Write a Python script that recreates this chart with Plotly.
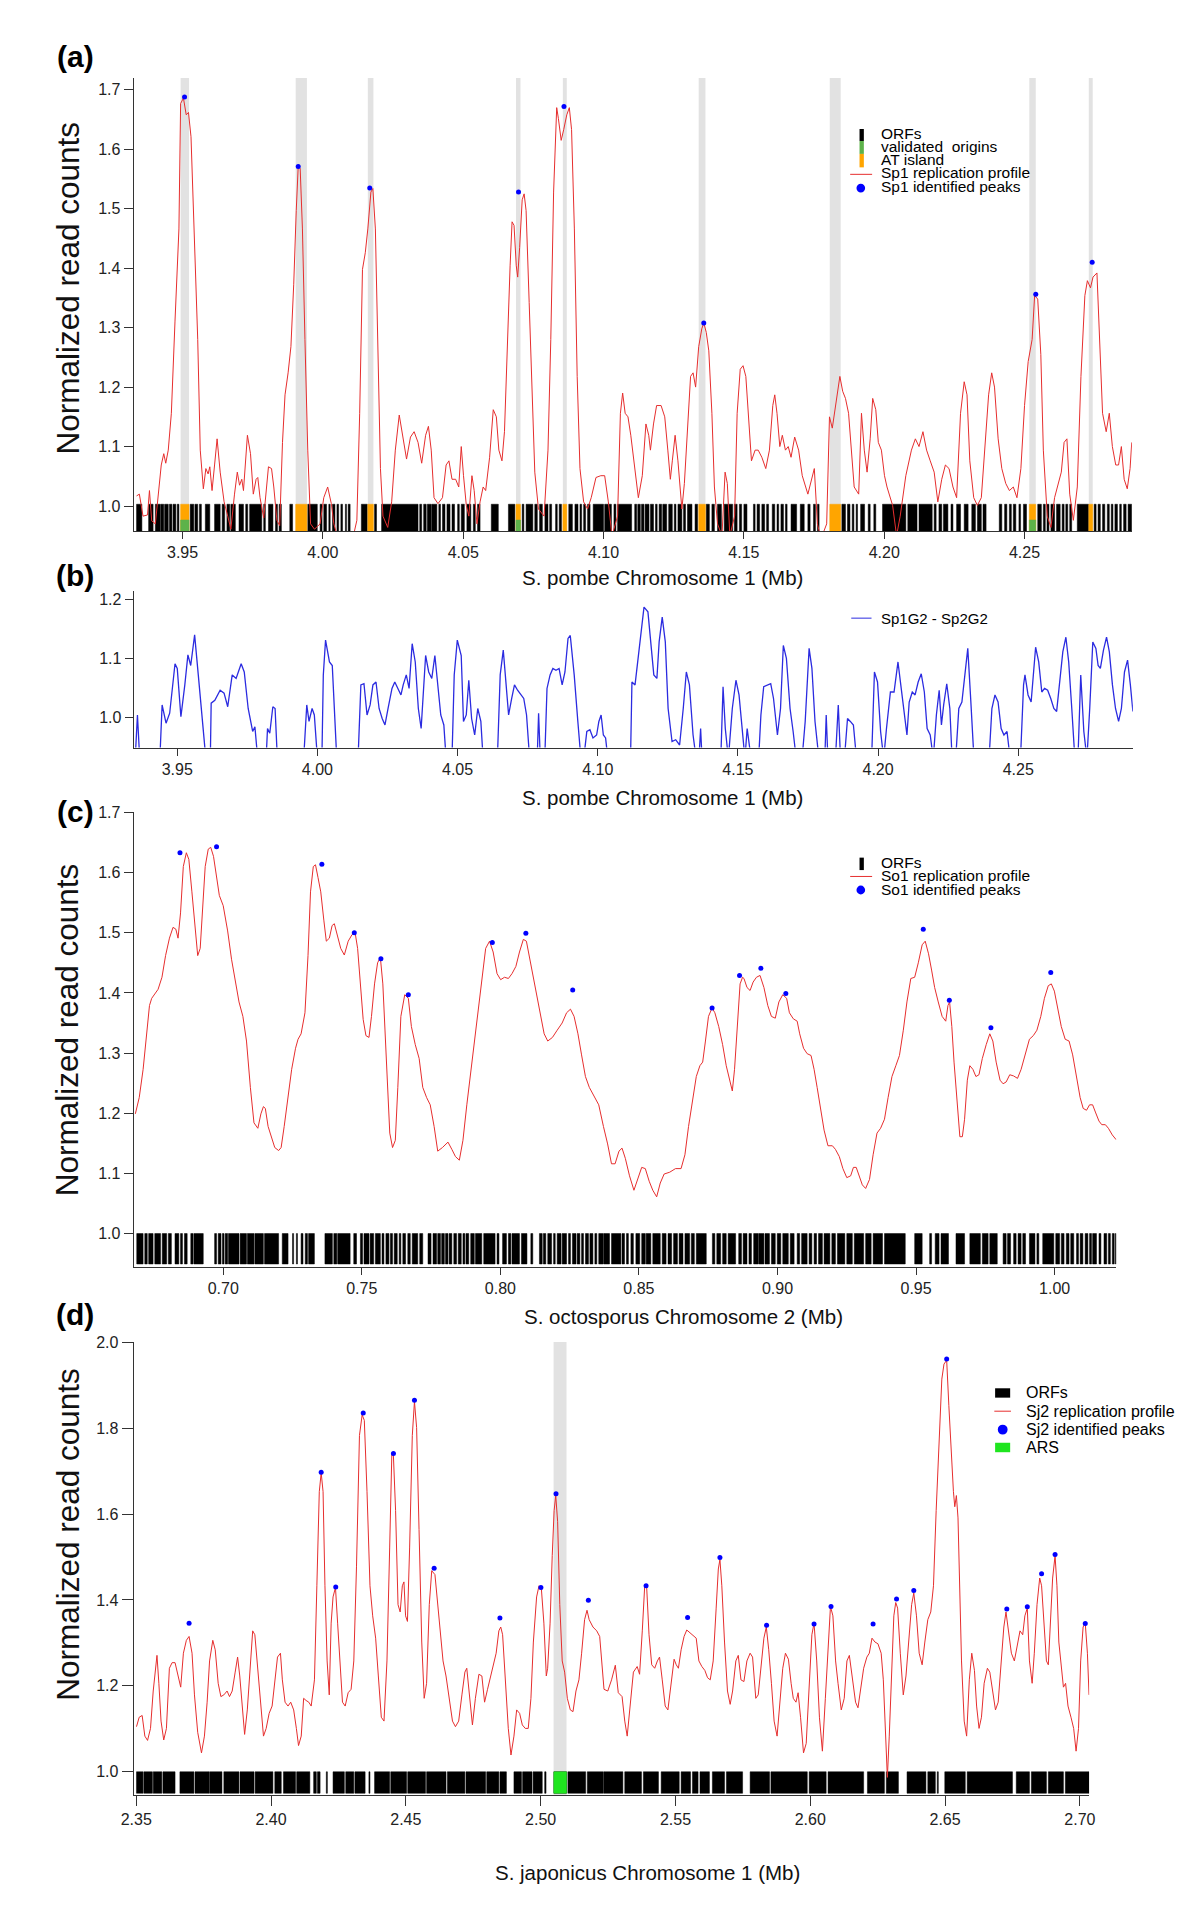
import plotly.graph_objects as go

# page is 1200x1912; the browser body keeps an 8px margin, so the figure is 1184x1896
OFF = 8
FW, FH = 1184, 1896
FONT = "Liberation Sans, Arial, Helvetica, sans-serif"
RED = "#e62e2e"
BLUE = "#0000ff"
GRAY = "#e2e2e2"
ORANGE = "#ffa500"
GREEN_ORI = "#5db24a"
GREEN_ARS = "#1fe51f"
BLUE_LINE = "#2b2be0"

# ---------------- Panel (a): S. pombe chr 1, Sp1 profile ----------------
a_x = [3.9336, 3.9346, 3.9359, 3.9375, 3.9382, 3.9390, 3.9403, 3.9424, 3.9433, 3.9440, 3.9449, 3.9460,
       3.9473, 3.9487, 3.9493, 3.9503, 3.9513, 3.9521, 3.9530, 3.9540, 3.9554, 3.9563, 3.9574, 3.9583,
       3.9591, 3.9597, 3.9605, 3.9614, 3.9623, 3.9634, 3.9648, 3.9661, 3.9672, 3.9685, 3.9695, 3.9703,
       3.9711, 3.9717, 3.9731, 3.9742, 3.9752, 3.9762, 3.9768, 3.9776, 3.9789, 3.9806, 3.9817, 3.9825,
       3.9836, 3.9846, 3.9856, 3.9865, 3.9876, 3.9886, 3.9896, 3.9905, 3.9912, 3.9919, 3.9927, 3.9936,
       3.9946, 3.9956, 3.9970, 3.9990, 4.0003, 4.0017, 4.0030, 4.0039, 4.0057, 4.0104, 4.0121, 4.0131,
       4.0141, 4.0151, 4.0160, 4.0171, 4.0178, 4.0187, 4.0195, 4.0205, 4.0214, 4.0231, 4.0245, 4.0258,
       4.0272, 4.0285, 4.0298, 4.0312, 4.0325, 4.0339, 4.0352, 4.0366, 4.0376, 4.0386, 4.0396, 4.0410,
       4.0426, 4.0439, 4.0449, 4.0460, 4.0473, 4.0484, 4.0493, 4.0501, 4.0511, 4.0520, 4.0531, 4.0539,
       4.0549, 4.0560, 4.0571, 4.0580, 4.0594, 4.0607, 4.0618, 4.0627, 4.0638, 4.0647, 4.0657, 4.0667,
       4.0674, 4.0681, 4.0689, 4.0694, 4.0701, 4.0710, 4.0717, 4.0724, 4.0735, 4.0745, 4.0755, 4.0768,
       4.0788, 4.0802, 4.0812, 4.0822, 4.0833, 4.0839, 4.0849, 4.0858, 4.0869, 4.0878, 4.0886, 4.0896,
       4.0906, 4.0916, 4.0929, 4.0943, 4.0956, 4.0973, 4.0990, 4.1004, 4.1017, 4.1030, 4.1050, 4.1060,
       4.1068, 4.1077, 4.1087, 4.1097, 4.1111, 4.1124, 4.1138, 4.1151, 4.1161, 4.1167, 4.1178, 4.1189,
       4.1205, 4.1218, 4.1229, 4.1238, 4.1245, 4.1255, 4.1265, 4.1279, 4.1288, 4.1299, 4.1310, 4.1319,
       4.1328, 4.1339, 4.1350, 4.1357, 4.1366, 4.1375, 4.1386, 4.1395, 4.1406, 4.1422, 4.1433, 4.1441,
       4.1450, 4.1467, 4.1476, 4.1487, 4.1497, 4.1507, 4.1516, 4.1527, 4.1540, 4.1551, 4.1564, 4.1578,
       4.1591, 4.1603, 4.1610, 4.1618, 4.1628, 4.1637, 4.1648, 4.1658, 4.1668, 4.1681, 4.1695, 4.1708,
       4.1728, 4.1742, 4.1751, 4.1762, 4.1775, 4.1795, 4.1805, 4.1815, 4.1829, 4.1842, 4.1852, 4.1862,
       4.1873, 4.1883, 4.1893, 4.1909, 4.1919, 4.1929, 4.1939, 4.1950, 4.1959, 4.1970, 4.1979, 4.1990,
       4.2001, 4.2010, 4.2021, 4.2030, 4.2044, 4.2057, 4.2077, 4.2097, 4.2111, 4.2124, 4.2138, 4.2151,
       4.2164, 4.2178, 4.2191, 4.2205, 4.2218, 4.2231, 4.2245, 4.2258, 4.2272, 4.2285, 4.2295, 4.2305,
       4.2319, 4.2332, 4.2346, 4.2359, 4.2372, 4.2383, 4.2393, 4.2406, 4.2419, 4.2433, 4.2446, 4.2460,
       4.2473, 4.2487, 4.2500, 4.2513, 4.2527, 4.2536, 4.2547, 4.2558, 4.2567, 4.2581, 4.2594, 4.2607,
       4.2618, 4.2631, 4.2641, 4.2651, 4.2661, 4.2674, 4.2688, 4.2701, 4.2715, 4.2724, 4.2735, 4.2744,
       4.2758, 4.2768, 4.2778, 4.2791, 4.2802, 4.2813, 4.2825, 4.2835, 4.2845, 4.2855, 4.2866, 4.2876,
       4.2882]
a_y = [1.017, 1.020, 0.983, 0.985, 1.026, 0.975, 0.970, 1.069, 1.088, 1.072, 1.094, 1.156,
       1.311, 1.466, 1.677, 1.686, 1.658, 1.662, 1.621, 1.466, 1.280, 1.094, 1.029, 1.063,
       1.054, 1.066, 1.026, 1.069, 1.113, 1.057, 1.007, 0.983, 0.961, 1.020, 1.057, 1.035,
       1.045, 1.026, 1.119, 1.088, 1.020, 1.045, 1.048, 1.014, 0.980, 1.066, 1.063, 1.032,
       0.976, 0.967, 1.107, 1.187, 1.224, 1.268, 1.373, 1.497, 1.571, 1.568, 1.466, 1.280,
       1.094, 0.970, 0.961, 0.970, 1.014, 1.032, 1.004, 0.970, 0.940, 0.940, 0.976, 1.156,
       1.398, 1.426, 1.466, 1.528, 1.534, 1.466, 1.280, 1.063, 0.983, 0.964, 1.007, 1.094,
       1.153, 1.119, 1.079, 1.116, 1.125, 1.107, 1.072, 1.119, 1.134, 1.094, 1.014, 1.004,
       1.014, 1.069, 1.076, 1.045, 1.045, 1.032, 1.100, 1.051, 1.001, 0.983, 1.051, 1.026,
       0.970, 1.007, 1.032, 1.026, 1.082, 1.162, 1.150, 1.094, 1.076, 1.125, 1.280, 1.404,
       1.478, 1.472, 1.404, 1.385, 1.435, 1.515, 1.525, 1.497, 1.342, 1.187, 1.057, 0.995,
       0.983, 1.094, 1.280, 1.528, 1.670, 1.652, 1.615, 1.633, 1.658, 1.670, 1.633, 1.466,
       1.218, 1.063, 1.007, 0.995, 1.014, 1.048, 1.051, 1.051, 1.007, 0.950, 0.983, 1.156,
       1.190, 1.156, 1.150, 1.119, 1.063, 1.014, 1.051, 1.138, 1.119, 1.094, 1.138, 1.169,
       1.169, 1.150, 1.094, 1.045, 1.076, 1.119, 1.076, 0.995, 1.038, 1.125, 1.218, 1.224,
       1.200, 1.268, 1.298, 1.308, 1.292, 1.261, 1.156, 1.032, 0.970, 0.950, 1.057, 1.038,
       0.950, 0.983, 1.156, 1.230, 1.236, 1.218, 1.156, 1.076, 1.094, 1.094, 1.082, 1.063,
       1.094, 1.169, 1.187, 1.156, 1.100, 1.119, 1.094, 1.100, 1.082, 1.116, 1.094, 1.051,
       1.020, 1.045, 1.063, 0.970, 0.945, 0.970, 1.150, 1.131, 1.181, 1.218, 1.193, 1.181,
       1.156, 1.094, 1.032, 1.020, 1.156, 1.094, 1.057, 1.113, 1.181, 1.162, 1.107, 1.094,
       1.051, 1.032, 1.014, 1.001, 0.950, 0.983, 1.051, 1.094, 1.113, 1.100, 1.125, 1.094,
       1.076, 1.057, 1.007, 1.045, 1.069, 1.063, 1.032, 1.014, 1.156, 1.209, 1.187, 1.076,
       1.014, 1.001, 1.014, 1.107, 1.187, 1.224, 1.200, 1.113, 1.063, 1.038, 1.026, 1.032,
       1.014, 1.063, 1.169, 1.243, 1.280, 1.354, 1.348, 1.255, 1.094, 0.983, 0.964, 1.014,
       1.032, 1.057, 1.107, 1.113, 1.020, 0.976, 1.032, 1.218, 1.354, 1.379, 1.367, 1.385,
       1.392, 1.280, 1.156, 1.125, 1.156, 1.100, 1.069, 1.069, 1.100, 1.045, 1.029, 1.063,
       1.107]
a_peak_x = [3.9507, 3.9912, 4.0167, 4.0697, 4.0859, 4.1357, 4.2540, 4.2741]
a_peak_y = [1.688, 1.571, 1.535, 1.528, 1.672, 1.308, 1.356, 1.410]
a_orf_start = [3.9336, 3.9379, 3.9403, 3.9422, 3.9436, 3.9453, 3.9466, 3.9481, 3.9527, 3.9544, 3.9560,
               3.9581, 3.9614, 3.9641, 3.9658, 3.9672, 3.9701, 3.9725, 3.9739, 3.9789, 3.9806, 3.9831,
               3.9844, 3.9882, 3.9946, 3.9990, 4.0003, 4.0021, 4.0034, 4.0050, 4.0064, 4.0080, 4.0090,
               4.0137, 4.0184, 4.0209, 4.0345, 4.0359, 4.0372, 4.0388, 4.0413, 4.0426, 4.0442, 4.0460,
               4.0480, 4.0493, 4.0513, 4.0536, 4.0551, 4.0600, 4.0661, 4.0710, 4.0724, 4.0755, 4.0772,
               4.0791, 4.0808, 4.0829, 4.0842, 4.0876, 4.0898, 4.0916, 4.0929, 4.0943, 4.0963,
               4.1004, 4.1037, 4.1050, 4.1111, 4.1122, 4.1135, 4.1148, 4.1167, 4.1185, 4.1198, 4.1211,
               4.1232, 4.1252, 4.1265, 4.1285, 4.1299, 4.1326, 4.1366, 4.1386, 4.1406, 4.1430, 4.1466,
               4.1484, 4.1500, 4.1534, 4.1547, 4.1564, 4.1581, 4.1601, 4.1618, 4.1632, 4.1648, 4.1668,
               4.1701, 4.1728, 4.1748, 4.1762, 4.1862, 4.1869, 4.1886, 4.1900, 4.1916, 4.1943, 4.1963,
               4.1994, 4.2084, 4.2124, 4.2178, 4.2195, 4.2211, 4.2238, 4.2258, 4.2285, 4.2312, 4.2332,
               4.2352, 4.2410, 4.2429, 4.2446, 4.2460, 4.2480, 4.2496, 4.2547, 4.2567, 4.2580, 4.2594,
               4.2614, 4.2634, 4.2647, 4.2661, 4.2688, 4.2748, 4.2762, 4.2778, 4.2795, 4.2809, 4.2822,
               4.2839, 4.2853, 4.2869]
a_orf_end = [3.9355, 3.9395, 3.9420, 3.9433, 3.9449, 3.9462, 3.9476, 3.9487, 3.9540, 3.9554, 3.9567,
             3.9597, 3.9634, 3.9650, 3.9668, 3.9688, 3.9717, 3.9732, 3.9782, 3.9795, 3.9822, 3.9838,
             3.9852, 3.9892, 3.9980, 3.9997, 4.0013, 4.0026, 4.0043, 4.0056, 4.0070, 4.0084, 4.0097,
             4.0158, 4.0191, 4.0339, 4.0352, 4.0368, 4.0386, 4.0406, 4.0419, 4.0435, 4.0453, 4.0469,
             4.0486, 4.0504, 4.0527, 4.0543, 4.0560, 4.0625, 4.0684, 4.0716, 4.0748, 4.0764, 4.0782,
             4.0802, 4.0815, 4.0835, 4.0850, 4.0889, 4.0909, 4.0922, 4.0936, 4.0952, 4.1000,
             4.1028, 4.1044, 4.1100, 4.1118, 4.1131, 4.1144, 4.1162, 4.1178, 4.1191, 4.1207, 4.1225,
             4.1245, 4.1258, 4.1279, 4.1292, 4.1315, 4.1335, 4.1377, 4.1395, 4.1420, 4.1460, 4.1476,
             4.1492, 4.1511, 4.1540, 4.1556, 4.1574, 4.1588, 4.1610, 4.1624, 4.1641, 4.1654, 4.1688,
             4.1715, 4.1736, 4.1755, 4.1768, 4.1849, 4.1878, 4.1892, 4.1905, 4.1930, 4.1950, 4.1970,
             4.2077, 4.2117, 4.2171, 4.2185, 4.2205, 4.2227, 4.2245, 4.2272, 4.2299, 4.2325, 4.2346,
             4.2363, 4.2419, 4.2437, 4.2453, 4.2469, 4.2486, 4.2507, 4.2560, 4.2574, 4.2587, 4.2607,
             4.2627, 4.2641, 4.2654, 4.2668, 4.2728, 4.2755, 4.2770, 4.2786, 4.2802, 4.2815, 4.2831,
             4.2845, 4.2862, 4.2882]
a_at_start = [3.9493, 3.9903, 4.0160, 4.0688, 4.0855, 4.1339, 4.1806, 4.2517, 4.2729]
a_at_end = [3.9523, 3.9943, 4.0180, 4.0704, 4.0869, 4.1363, 4.1845, 4.2540, 4.2743]
a_ori_start = [3.9493, 4.0688, 4.2517]
a_ori_end = [3.9523, 4.0704, 4.2540]
a_xticks = [3.95, 4.00, 4.05, 4.10, 4.15, 4.20, 4.25]
a_xlabels = ["3.95", "4.00", "4.05", "4.10", "4.15", "4.20", "4.25"]
a_yticks = [1.0, 1.1, 1.2, 1.3, 1.4, 1.5, 1.6, 1.7]
a_ylabels = ["1.0", "1.1", "1.2", "1.3", "1.4", "1.5", "1.6", "1.7"]

# ---------------- Panel (b): Sp1G2 - Sp2G2 ----------------
b_x = [3.9350, 3.9358, 3.9366, 3.9438, 3.9446, 3.9460, 3.9473, 3.9492, 3.9500, 3.9513, 3.9527, 3.9538,
       3.9548, 3.9562, 3.9575, 3.9591, 3.9602, 3.9618, 3.9621, 3.9634, 3.9653, 3.9667, 3.9680, 3.9696,
       3.9710, 3.9728, 3.9739, 3.9753, 3.9769, 3.9777, 3.9787, 3.9817, 3.9822, 3.9830, 3.9841, 3.9849,
       3.9857, 3.9951, 3.9962, 3.9970, 3.9981, 3.9989, 4.0000, 4.0016, 4.0021, 4.0029, 4.0043, 4.0053,
       4.0064, 4.0069, 4.0145, 4.0155, 4.0166, 4.0177, 4.0188, 4.0198, 4.0209, 4.0220, 4.0231, 4.0241,
       4.0252, 4.0266, 4.0276, 4.0287, 4.0298, 4.0306, 4.0317, 4.0327, 4.0338, 4.0349, 4.0360, 4.0370,
       4.0378, 4.0386, 4.0397, 4.0408, 4.0419, 4.0429, 4.0440, 4.0451, 4.0459, 4.0480, 4.0488, 4.0499,
       4.0513, 4.0521, 4.0531, 4.0540, 4.0550, 4.0561, 4.0572, 4.0583, 4.0591, 4.0642, 4.0652, 4.0663,
       4.0674, 4.0682, 4.0693, 4.0703, 4.0714, 4.0725, 4.0736, 4.0746, 4.0757, 4.0784, 4.0789, 4.0795,
       4.0811, 4.0819, 4.0830, 4.0840, 4.0851, 4.0862, 4.0873, 4.0883, 4.0894, 4.0902, 4.0916, 4.0929,
       4.0940, 4.0950, 4.0961, 4.0972, 4.0983, 4.0996, 4.1004, 4.1012, 4.1020, 4.1028, 4.1036, 4.1117,
       4.1122, 4.1133, 4.1144, 4.1155, 4.1165, 4.1179, 4.1190, 4.1200, 4.1211, 4.1219, 4.1230, 4.1241,
       4.1251, 4.1265, 4.1278, 4.1292, 4.1305, 4.1316, 4.1327, 4.1340, 4.1351, 4.1361, 4.1367, 4.1372,
       4.1439, 4.1447, 4.1455, 4.1466, 4.1480, 4.1493, 4.1504, 4.1515, 4.1525, 4.1533, 4.1547, 4.1574,
       4.1582, 4.1592, 4.1606, 4.1617, 4.1627, 4.1641, 4.1652, 4.1662, 4.1673, 4.1686, 4.1697, 4.1708,
       4.1729, 4.1740, 4.1754, 4.1764, 4.1775, 4.1789, 4.1810, 4.1815, 4.1821, 4.1848, 4.1858, 4.1866,
       4.1880, 4.1891, 4.1901, 4.1912, 4.1923, 4.1977, 4.1987, 4.1998, 4.2009, 4.2020, 4.2030, 4.2044,
       4.2057, 4.2071, 4.2081, 4.2092, 4.2103, 4.2111, 4.2122, 4.2132, 4.2143, 4.2154, 4.2165, 4.2175,
       4.2186, 4.2197, 4.2208, 4.2218, 4.2226, 4.2234, 4.2245, 4.2256, 4.2264, 4.2277, 4.2288, 4.2299,
       4.2310, 4.2320, 4.2331, 4.2342, 4.2396, 4.2406, 4.2417, 4.2428, 4.2439, 4.2449, 4.2460, 4.2471,
       4.2508, 4.2519, 4.2524, 4.2535, 4.2546, 4.2557, 4.2562, 4.2573, 4.2584, 4.2594, 4.2605, 4.2616,
       4.2627, 4.2637, 4.2648, 4.2659, 4.2670, 4.2680, 4.2691, 4.2702, 4.2713, 4.2723, 4.2734, 4.2745,
       4.2755, 4.2766, 4.2777, 4.2785, 4.2793, 4.2804, 4.2815, 4.2825, 4.2836, 4.2847, 4.2858, 4.2868,
       4.2879, 4.2890, 4.2900, 4.2909]
b_y = [0.93, 1.004, 0.93, 0.93, 1.021, 0.990, 1.007, 1.091, 1.083, 1.001, 1.055, 1.106,
       1.088, 1.140, 1.072, 0.987, 0.93, 0.93, 1.024, 1.029, 1.046, 1.041, 1.018, 1.072,
       1.066, 1.091, 1.077, 1.015, 0.976, 0.984, 0.93, 0.93, 0.981, 0.973, 1.018, 1.015,
       0.93, 0.93, 1.021, 0.993, 1.015, 1.004, 0.93, 0.93, 1.072, 1.131, 1.094, 1.088,
       0.981, 0.93, 0.93, 1.055, 1.057, 1.004, 1.021, 1.055, 1.060, 1.015, 0.998, 0.987,
       1.015, 1.049, 1.060, 1.049, 1.038, 1.055, 1.072, 1.049, 1.125, 1.094, 1.015, 0.981,
       1.049, 1.105, 1.077, 1.066, 1.105, 1.055, 1.004, 0.987, 0.93, 0.93, 1.072, 1.131,
       1.105, 0.993, 1.004, 1.063, 0.998, 0.970, 1.015, 0.993, 0.93, 0.93, 1.072, 1.114,
       1.055, 1.004, 1.032, 1.055, 1.046, 1.038, 1.032, 1.004, 0.93, 0.93, 1.007, 0.93,
       0.93, 1.049, 1.072, 1.083, 1.080, 1.083, 1.055, 1.077, 1.134, 1.139, 1.072, 0.993,
       0.93, 0.93, 0.976, 0.979, 0.965, 0.970, 0.993, 1.004, 0.970, 0.965, 0.93, 0.93,
       1.060, 1.055, 1.100, 1.150, 1.187, 1.179, 1.122, 1.072, 1.066, 1.128, 1.170, 1.128,
       1.015, 0.959, 0.962, 0.953, 1.015, 1.077, 1.055, 0.970, 0.93, 0.93, 0.981, 0.93,
       0.93, 1.052, 0.981, 0.93, 1.015, 1.063, 1.038, 0.981, 0.93, 0.981, 0.93, 0.93,
       1.004, 1.052, 1.055, 1.057, 1.032, 0.970, 1.015, 1.122, 1.100, 1.015, 0.976, 0.93,
       0.93, 0.993, 1.117, 1.083, 0.993, 0.93, 0.93, 1.004, 0.93, 0.93, 1.021, 0.93,
       0.93, 0.998, 0.993, 0.987, 0.93, 0.93, 1.077, 1.060, 0.976, 0.93, 0.981, 1.043,
       1.043, 1.094, 1.055, 1.015, 0.970, 1.026, 1.043, 1.038, 1.060, 1.074, 1.043, 0.981,
       0.970, 0.93, 1.004, 1.046, 0.987, 1.021, 1.057, 1.015, 0.93, 0.93, 1.015, 1.026,
       1.072, 1.117, 1.026, 0.93, 0.93, 1.015, 1.038, 1.026, 0.981, 0.970, 0.976, 0.93,
       0.93, 1.055, 1.072, 1.038, 1.026, 1.094, 1.119, 1.094, 1.043, 1.049, 1.046, 1.032,
       1.015, 1.010, 1.066, 1.111, 1.136, 1.094, 1.015, 0.93, 0.93, 1.072, 0.976, 0.93,
       1.015, 1.128, 1.117, 1.088, 1.083, 1.114, 1.136, 1.111, 1.055, 1.015, 0.993, 1.015,
       1.077, 1.097, 1.055, 1.010]
b_yticks = [1.0, 1.1, 1.2]
b_ylabels = ["1.0", "1.1", "1.2"]

# ---------------- Panel (c): S. octosporus chr 2, So1 profile ----------------
c_x = [0.6683, 0.6697, 0.6711, 0.6724, 0.6734, 0.6742, 0.6751, 0.6765, 0.6779, 0.6792, 0.6806, 0.6819,
       0.6829, 0.6837, 0.6846, 0.6856, 0.6867, 0.6876, 0.6887, 0.6897, 0.6908, 0.6917, 0.6925, 0.6935,
       0.6946, 0.6955, 0.6965, 0.6976, 0.6986, 0.7000, 0.7016, 0.7030, 0.7043, 0.7057, 0.7071, 0.7084,
       0.7098, 0.7111, 0.7125, 0.7136, 0.7145, 0.7152, 0.7162, 0.7173, 0.7186, 0.7200, 0.7209, 0.7220,
       0.7234, 0.7247, 0.7261, 0.7270, 0.7281, 0.7295, 0.7306, 0.7315, 0.7325, 0.7333, 0.7342, 0.7352,
       0.7363, 0.7372, 0.7383, 0.7393, 0.7401, 0.7410, 0.7424, 0.7437, 0.7451, 0.7465, 0.7476, 0.7485,
       0.7495, 0.7505, 0.7515, 0.7526, 0.7535, 0.7546, 0.7557, 0.7567, 0.7576, 0.7587, 0.7601, 0.7611,
       0.7621, 0.7630, 0.7641, 0.7655, 0.7668, 0.7679, 0.7693, 0.7707, 0.7720, 0.7734, 0.7747, 0.7761,
       0.7774, 0.7791, 0.7811, 0.7825, 0.7838, 0.7852, 0.7865, 0.7879, 0.7893, 0.7906, 0.7920, 0.7933,
       0.7947, 0.7961, 0.7974, 0.7988, 0.8001, 0.8015, 0.8029, 0.8042, 0.8056, 0.8069, 0.8083, 0.8094,
       0.8106, 0.8124, 0.8141, 0.8158, 0.8171, 0.8188, 0.8205, 0.8223, 0.8239, 0.8253, 0.8266, 0.8280,
       0.8293, 0.8307, 0.8321, 0.8341, 0.8355, 0.8372, 0.8387, 0.8401, 0.8414, 0.8428, 0.8439, 0.8451,
       0.8466, 0.8482, 0.8496, 0.8510, 0.8523, 0.8537, 0.8550, 0.8564, 0.8577, 0.8591, 0.8611, 0.8632,
       0.8652, 0.8666, 0.8679, 0.8693, 0.8707, 0.8720, 0.8730, 0.8740, 0.8751, 0.8764, 0.8774, 0.8788,
       0.8802, 0.8815, 0.8826, 0.8837, 0.8845, 0.8856, 0.8865, 0.8874, 0.8879, 0.8890, 0.8901, 0.8912,
       0.8924, 0.8937, 0.8951, 0.8965, 0.8978, 0.8992, 0.9005, 0.9019, 0.9033, 0.9043, 0.9057, 0.9071,
       0.9080, 0.9094, 0.9107, 0.9121, 0.9132, 0.9143, 0.9155, 0.9168, 0.9182, 0.9198, 0.9209, 0.9223,
       0.9236, 0.9250, 0.9264, 0.9274, 0.9284, 0.9295, 0.9306, 0.9318, 0.9332, 0.9345, 0.9359, 0.9372,
       0.9386, 0.9399, 0.9413, 0.9427, 0.9440, 0.9454, 0.9467, 0.9481, 0.9495, 0.9508, 0.9522, 0.9533,
       0.9545, 0.9556, 0.9567, 0.9580, 0.9594, 0.9607, 0.9615, 0.9621, 0.9629, 0.9637, 0.9647, 0.9658,
       0.9667, 0.9675, 0.9685, 0.9694, 0.9705, 0.9716, 0.9727, 0.9739, 0.9753, 0.9766, 0.9777, 0.9789,
       0.9803, 0.9814, 0.9825, 0.9838, 0.9852, 0.9866, 0.9879, 0.9895, 0.9909, 0.9923, 0.9936, 0.9950,
       0.9963, 0.9977, 0.9988, 0.9999, 1.0011, 1.0024, 1.0038, 1.0052, 1.0065, 1.0079, 1.0092, 1.0103,
       1.0115, 1.0126, 1.0137, 1.0147, 1.0160, 1.0170, 1.0183, 1.0194, 1.0208, 1.0222]
c_y = [1.199, 1.226, 1.273, 1.332, 1.379, 1.391, 1.397, 1.406, 1.426, 1.462, 1.491, 1.509,
       1.506, 1.491, 1.533, 1.610, 1.633, 1.622, 1.568, 1.521, 1.462, 1.474, 1.539, 1.610,
       1.639, 1.642, 1.627, 1.592, 1.562, 1.545, 1.503, 1.456, 1.421, 1.385, 1.361, 1.320,
       1.243, 1.184, 1.175, 1.199, 1.211, 1.208, 1.178, 1.161, 1.143, 1.138, 1.143, 1.178,
       1.232, 1.273, 1.308, 1.323, 1.332, 1.367, 1.462, 1.568, 1.610, 1.613, 1.592, 1.568,
       1.521, 1.486, 1.491, 1.512, 1.515, 1.497, 1.474, 1.463, 1.486, 1.497, 1.500, 1.474,
       1.415, 1.356, 1.329, 1.326, 1.361, 1.415, 1.450, 1.459, 1.415, 1.302, 1.167, 1.143,
       1.155, 1.243, 1.361, 1.397, 1.391, 1.344, 1.314, 1.291, 1.243, 1.226, 1.214, 1.178,
       1.137, 1.143, 1.152, 1.140, 1.128, 1.122, 1.155, 1.214, 1.267, 1.320, 1.379, 1.426,
       1.474, 1.486, 1.468, 1.432, 1.422, 1.426, 1.424, 1.432, 1.444, 1.468, 1.489, 1.486,
       1.456, 1.415, 1.373, 1.332, 1.320, 1.326, 1.338, 1.350, 1.367, 1.373, 1.361, 1.332,
       1.297, 1.261, 1.243, 1.226, 1.214, 1.178, 1.149, 1.116, 1.116, 1.137, 1.142, 1.125,
       1.096, 1.072, 1.090, 1.110, 1.108, 1.087, 1.072, 1.061, 1.084, 1.099, 1.102, 1.108,
       1.108, 1.131, 1.178, 1.220, 1.261, 1.279, 1.285, 1.320, 1.361, 1.375, 1.367, 1.344,
       1.314, 1.279, 1.255, 1.237, 1.273, 1.361, 1.415, 1.426, 1.424, 1.409, 1.404, 1.418,
       1.426, 1.429, 1.409, 1.379, 1.361, 1.358, 1.385, 1.397, 1.391, 1.367, 1.357, 1.353,
       1.332, 1.308, 1.299, 1.296, 1.273, 1.243, 1.208, 1.172, 1.146, 1.146, 1.140, 1.128,
       1.108, 1.093, 1.096, 1.110, 1.110, 1.096, 1.081, 1.075, 1.090, 1.131, 1.167, 1.175,
       1.190, 1.226, 1.261, 1.279, 1.296, 1.338, 1.385, 1.424, 1.426, 1.450, 1.480, 1.486,
       1.465, 1.438, 1.409, 1.385, 1.361, 1.353, 1.379, 1.385, 1.344, 1.285, 1.226, 1.161,
       1.161, 1.190, 1.255, 1.279, 1.273, 1.261, 1.264, 1.291, 1.314, 1.332, 1.320, 1.285,
       1.255, 1.249, 1.252, 1.264, 1.262, 1.258, 1.273, 1.302, 1.323, 1.329, 1.338, 1.361,
       1.391, 1.412, 1.415, 1.403, 1.373, 1.344, 1.323, 1.320, 1.297, 1.261, 1.226, 1.208,
       1.205, 1.214, 1.214, 1.202, 1.187, 1.181, 1.181, 1.175, 1.164, 1.156]
c_peak_x = [0.6844, 0.6976, 0.7356, 0.7473, 0.7569, 0.7668, 0.7971, 0.8092, 0.8261,
            0.8764, 0.8863, 0.8940, 0.9030, 0.9526, 0.9620, 0.9770, 0.9986]
c_peak_y = [1.633, 1.643, 1.614, 1.500, 1.457, 1.397, 1.484, 1.499, 1.405,
            1.375, 1.429, 1.441, 1.399, 1.506, 1.388, 1.342, 1.434]
c_orf_start = [0.6688, 0.6717, 0.6731, 0.6753, 0.6780, 0.6802, 0.6826, 0.6846, 0.6860, 0.6883, 0.6894,
               0.6969, 0.6982, 0.6997, 0.7007, 0.7019, 0.7061, 0.7087, 0.7114, 0.7149, 0.7213, 0.7250,
               0.7264, 0.7281, 0.7296, 0.7308, 0.7367, 0.7399, 0.7413, 0.7471, 0.7495, 0.7508, 0.7530,
               0.7549, 0.7573, 0.7587, 0.7603, 0.7617, 0.7635, 0.7648, 0.7666, 0.7682, 0.7709, 0.7739,
               0.7757, 0.7774, 0.7788, 0.7802, 0.7815, 0.7832, 0.7848, 0.7865, 0.7876, 0.7893, 0.7910,
               0.7940, 0.7988, 0.8008, 0.8029, 0.8042, 0.8076, 0.8110, 0.8141, 0.8155, 0.8171, 0.8192,
               0.8205, 0.8223, 0.8246, 0.8260, 0.8277, 0.8293, 0.8307, 0.8323, 0.8341, 0.8355,
               0.8374, 0.8401, 0.8439, 0.8455, 0.8471, 0.8489, 0.8510, 0.8526, 0.8550, 0.8584, 0.8605,
               0.8625, 0.8645, 0.8666, 0.8689, 0.8707, 0.8765, 0.8781, 0.8802, 0.8822, 0.8860, 0.8876,
               0.8897, 0.8914, 0.8933, 0.8955, 0.8978, 0.8999, 0.9019, 0.9046, 0.9071, 0.9087, 0.9114,
               0.9132, 0.9148, 0.9168, 0.9196, 0.9216, 0.9250, 0.9277, 0.9318, 0.9345, 0.9386, 0.9495,
               0.9549, 0.9569, 0.9590, 0.9644, 0.9694, 0.9739, 0.9766, 0.9814, 0.9830, 0.9852, 0.9868,
               0.9885, 0.9909, 0.9936, 0.9957, 1.0004, 1.0024, 1.0042, 1.0058, 1.0079, 1.0092, 1.0110,
               1.0126, 1.0137, 1.0160, 1.0178, 1.0194, 1.0208, 1.0219]
c_orf_end = [0.6711, 0.6726, 0.6747, 0.6774, 0.6796, 0.6813, 0.6840, 0.6853, 0.6870, 0.6891, 0.6928,
             0.6976, 0.6992, 0.7003, 0.7016, 0.7057, 0.7084, 0.7111, 0.7145, 0.7200, 0.7234, 0.7254,
             0.7268, 0.7288, 0.7304, 0.7329, 0.7394, 0.7410, 0.7458, 0.7481, 0.7503, 0.7526, 0.7543,
             0.7567, 0.7580, 0.7598, 0.7611, 0.7628, 0.7641, 0.7658, 0.7675, 0.7702, 0.7720, 0.7750,
             0.7770, 0.7784, 0.7798, 0.7811, 0.7825, 0.7842, 0.7859, 0.7872, 0.7886, 0.7906, 0.7933,
             0.7981, 0.7995, 0.8022, 0.8038, 0.8069, 0.8096, 0.8117, 0.8151, 0.8164, 0.8185, 0.8198,
             0.8219, 0.8239, 0.8253, 0.8273, 0.8287, 0.8300, 0.8318, 0.8334, 0.8348, 0.8372,
             0.8394, 0.8435, 0.8448, 0.8462, 0.8480, 0.8503, 0.8523, 0.8543, 0.8577, 0.8598, 0.8618,
             0.8639, 0.8659, 0.8683, 0.8700, 0.8743, 0.8774, 0.8795, 0.8815, 0.8849, 0.8870, 0.8890,
             0.8906, 0.8931, 0.8951, 0.8971, 0.8992, 0.9012, 0.9039, 0.9060, 0.9080, 0.9107, 0.9124,
             0.9141, 0.9162, 0.9189, 0.9209, 0.9243, 0.9270, 0.9311, 0.9338, 0.9379, 0.9461, 0.9522,
             0.9556, 0.9583, 0.9617, 0.9675, 0.9732, 0.9760, 0.9793, 0.9825, 0.9841, 0.9861, 0.9879,
             0.9895, 0.9929, 0.9943, 0.9997, 1.0018, 1.0034, 1.0052, 1.0069, 1.0086, 1.0102, 1.0120,
             1.0133, 1.0151, 1.0167, 1.0188, 1.0201, 1.0215, 1.0222]
c_xticks = [0.70, 0.75, 0.80, 0.85, 0.90, 0.95, 1.00]
c_xlabels = ["0.70", "0.75", "0.80", "0.85", "0.90", "0.95", "1.00"]
c_yticks = [1.0, 1.1, 1.2, 1.3, 1.4, 1.5, 1.6, 1.7]
c_ylabels = ["1.0", "1.1", "1.2", "1.3", "1.4", "1.5", "1.6", "1.7"]

# ---------------- Panel (d): S. japonicus chr 1, Sj2 profile ----------------
d_x = [2.3501, 2.3511, 2.3522, 2.3532, 2.3542, 2.3553, 2.3563, 2.3571, 2.3577, 2.3584, 2.3592, 2.3602,
       2.3612, 2.3623, 2.3633, 2.3644, 2.3654, 2.3665, 2.3675, 2.3686, 2.3696, 2.3707, 2.3716, 2.3728,
       2.3742, 2.3753, 2.3763, 2.3772, 2.3784, 2.3793, 2.3804, 2.3814, 2.3825, 2.3837, 2.3846, 2.3856,
       2.3867, 2.3876, 2.3884, 2.3892, 2.3902, 2.3912, 2.3923, 2.3932, 2.3940, 2.3951, 2.3962, 2.3972,
       2.3982, 2.3993, 2.4004, 2.4014, 2.4024, 2.4035, 2.4042, 2.4052, 2.4063, 2.4073, 2.4084, 2.4094,
       2.4102, 2.4112, 2.4121, 2.4130, 2.4140, 2.4149, 2.4161, 2.4170, 2.4179, 2.4186, 2.4193, 2.4200,
       2.4208, 2.4216, 2.4223, 2.4230, 2.4239, 2.4247, 2.4256, 2.4265, 2.4275, 2.4286, 2.4297, 2.4307,
       2.4317, 2.4328, 2.4338, 2.4346, 2.4356, 2.4367, 2.4377, 2.4388, 2.4398, 2.4409, 2.4419, 2.4430,
       2.4440, 2.4448, 2.4454, 2.4462, 2.4471, 2.4479, 2.4487, 2.4493, 2.4499, 2.4506, 2.4514, 2.4524,
       2.4532, 2.4540, 2.4549, 2.4559, 2.4568, 2.4577, 2.4587, 2.4596, 2.4608, 2.4619, 2.4628, 2.4638,
       2.4649, 2.4661, 2.4673, 2.4684, 2.4696, 2.4708, 2.4719, 2.4726, 2.4736, 2.4747, 2.4758, 2.4771,
       2.4782, 2.4792, 2.4803, 2.4814, 2.4824, 2.4835, 2.4845, 2.4852, 2.4859, 2.4869, 2.4880, 2.4890,
       2.4901, 2.4911, 2.4922, 2.4932, 2.4943, 2.4954, 2.4964, 2.4973, 2.4985, 2.4994, 2.5003, 2.5012,
       2.5021, 2.5026, 2.5035, 2.5043, 2.5050, 2.5056, 2.5063, 2.5071, 2.5080, 2.5089, 2.5099, 2.5110,
       2.5120, 2.5131, 2.5142, 2.5152, 2.5163, 2.5172, 2.5180, 2.5194, 2.5208, 2.5219, 2.5235, 2.5249,
       2.5263, 2.5277, 2.5288, 2.5302, 2.5312, 2.5321, 2.5333, 2.5344, 2.5358, 2.5367, 2.5377, 2.5386,
       2.5393, 2.5402, 2.5412, 2.5423, 2.5433, 2.5441, 2.5451, 2.5462, 2.5472, 2.5483, 2.5495, 2.5503,
       2.5511, 2.5521, 2.5532, 2.5542, 2.5553, 2.5566, 2.5577, 2.5587, 2.5598, 2.5609, 2.5619, 2.5629,
       2.5640, 2.5651, 2.5659, 2.5665, 2.5672, 2.5682, 2.5693, 2.5703, 2.5712, 2.5724, 2.5733, 2.5743,
       2.5754, 2.5765, 2.5777, 2.5786, 2.5798, 2.5807, 2.5818, 2.5828, 2.5837, 2.5846, 2.5856, 2.5866,
       2.5877, 2.5887, 2.5898, 2.5908, 2.5919, 2.5929, 2.5937, 2.5947, 2.5955, 2.5964, 2.5975, 2.5985,
       2.5996, 2.6006, 2.6014, 2.6024, 2.6034, 2.6045, 2.6056, 2.6067, 2.6075, 2.6084, 2.6094, 2.6103,
       2.6115, 2.6126, 2.6136, 2.6145, 2.6157, 2.6168, 2.6177, 2.6187, 2.6198, 2.6210, 2.6219, 2.6229,
       2.6240, 2.6251, 2.6263, 2.6271, 2.6279, 2.6286, 2.6293, 2.6302, 2.6310, 2.6317, 2.6324, 2.6334,
       2.6345, 2.6355, 2.6366, 2.6376, 2.6384, 2.6394, 2.6404, 2.6415, 2.6425, 2.6436, 2.6447, 2.6457,
       2.6467, 2.6478, 2.6488, 2.6496, 2.6506, 2.6514, 2.6523, 2.6531, 2.6536, 2.6542, 2.6548, 2.6555,
       2.6561, 2.6571, 2.6580, 2.6590, 2.6599, 2.6609, 2.6617, 2.6626, 2.6635, 2.6645, 2.6657, 2.6666,
       2.6676, 2.6687, 2.6697, 2.6708, 2.6718, 2.6726, 2.6736, 2.6746, 2.6757, 2.6768, 2.6778, 2.6788,
       2.6796, 2.6805, 2.6813, 2.6823, 2.6831, 2.6841, 2.6851, 2.6858, 2.6866, 2.6876, 2.6883, 2.6891,
       2.6899, 2.6908, 2.6915, 2.6922, 2.6930, 2.6939, 2.6947, 2.6956, 2.6967, 2.6977, 2.6986, 2.6995,
       2.7003, 2.7012, 2.7020, 2.7028, 2.7034]
d_y = [1.105, 1.127, 1.131, 1.083, 1.073, 1.101, 1.188, 1.241, 1.271, 1.206, 1.118, 1.074,
       1.101, 1.241, 1.254, 1.254, 1.227, 1.197, 1.276, 1.306, 1.315, 1.276, 1.179, 1.092,
       1.044, 1.083, 1.162, 1.258, 1.306, 1.284, 1.206, 1.175, 1.179, 1.188, 1.175, 1.188,
       1.232, 1.267, 1.223, 1.153, 1.087, 1.144, 1.249, 1.328, 1.319, 1.232, 1.144, 1.083,
       1.101, 1.136, 1.153, 1.206, 1.267, 1.276, 1.214, 1.162, 1.153, 1.162, 1.144, 1.101,
       1.061, 1.083, 1.171, 1.166, 1.162, 1.153, 1.214, 1.433, 1.652, 1.696, 1.652, 1.433,
       1.258, 1.179, 1.346, 1.407, 1.429, 1.346, 1.241, 1.162, 1.153, 1.184, 1.192, 1.258,
       1.477, 1.783, 1.831, 1.818, 1.652, 1.433, 1.363, 1.311, 1.223, 1.127, 1.118, 1.258,
       1.521, 1.739, 1.735, 1.608, 1.389, 1.372, 1.433, 1.442, 1.363, 1.350, 1.521, 1.783,
       1.862, 1.801, 1.564, 1.302, 1.171, 1.206, 1.389, 1.468, 1.459, 1.381, 1.311, 1.258,
       1.223, 1.171, 1.118, 1.105, 1.118, 1.179, 1.232, 1.241, 1.171, 1.109, 1.171, 1.227,
       1.223, 1.162, 1.192, 1.223, 1.249, 1.276, 1.328, 1.337, 1.319, 1.223, 1.101, 1.039,
       1.083, 1.144, 1.136, 1.109, 1.101, 1.101, 1.171, 1.302, 1.407, 1.433, 1.424, 1.346,
       1.223, 1.241, 1.346, 1.503, 1.608, 1.643, 1.582, 1.389, 1.258, 1.232, 1.171, 1.144,
       1.140, 1.188, 1.214, 1.276, 1.354, 1.376, 1.354, 1.337, 1.328, 1.315, 1.192, 1.188,
       1.214, 1.248, 1.184, 1.175, 1.118, 1.083, 1.153, 1.232, 1.245, 1.227, 1.328, 1.433,
       1.433, 1.319, 1.249, 1.241, 1.258, 1.267, 1.214, 1.153, 1.144, 1.206, 1.262, 1.249,
       1.241, 1.284, 1.315, 1.330, 1.324, 1.319, 1.311, 1.258, 1.245, 1.236, 1.219, 1.214,
       1.258, 1.381, 1.472, 1.494, 1.433, 1.302, 1.188, 1.157, 1.188, 1.258, 1.271, 1.214,
       1.210, 1.258, 1.276, 1.267, 1.171, 1.179, 1.241, 1.311, 1.337, 1.284, 1.206, 1.118,
       1.083, 1.162, 1.241, 1.276, 1.262, 1.206, 1.171, 1.162, 1.184, 1.127, 1.044, 1.066,
       1.214, 1.319, 1.346, 1.258, 1.127, 1.048, 1.171, 1.302, 1.385, 1.363, 1.258, 1.206,
       1.144, 1.171, 1.258, 1.271, 1.214, 1.162, 1.149, 1.188, 1.241, 1.267, 1.276, 1.311,
       1.302, 1.298, 1.276, 1.214, 1.083, 0.987, 1.083, 1.258, 1.363, 1.394, 1.381, 1.276,
       1.179, 1.223, 1.311, 1.389, 1.416, 1.363, 1.276, 1.249, 1.302, 1.354, 1.372, 1.433,
       1.608, 1.783, 1.914, 1.949, 1.958, 1.853, 1.739, 1.652, 1.617, 1.643, 1.591, 1.433,
       1.258, 1.118, 1.083, 1.214, 1.276, 1.236, 1.153, 1.101, 1.127, 1.206, 1.241, 1.232,
       1.188, 1.144, 1.162, 1.267, 1.337, 1.372, 1.319, 1.276, 1.258, 1.293, 1.328, 1.319,
       1.363, 1.381, 1.258, 1.206, 1.276, 1.389, 1.451, 1.433, 1.346, 1.258, 1.249, 1.346,
       1.451, 1.503, 1.433, 1.302, 1.258, 1.197, 1.206, 1.153, 1.127, 1.101, 1.048, 1.101,
       1.258, 1.337, 1.346, 1.276, 1.179]
d_peak_x = [2.3696, 2.4186, 2.4240, 2.4342, 2.4454, 2.4532, 2.4605, 2.4849, 2.5001, 2.5057, 2.5177,
            2.5391, 2.5545, 2.5665, 2.5838, 2.6014, 2.6077, 2.6233, 2.6320, 2.6384, 2.6506, 2.6729,
            2.6805, 2.6858, 2.6908, 2.7020]
d_peak_y = [1.346, 1.697, 1.430, 1.835, 1.741, 1.865, 1.474, 1.358, 1.429, 1.647, 1.399,
            1.433, 1.359, 1.499, 1.341, 1.344, 1.385, 1.344, 1.402, 1.422, 1.961, 1.379,
            1.384, 1.461, 1.506, 1.345]
d_orf_start = [2.3501, 2.3528, 2.3563, 2.3599, 2.3662, 2.3718, 2.3772, 2.3825, 2.3885, 2.3941, 2.4014,
               2.4046, 2.4095, 2.4158, 2.4172, 2.4205, 2.4230, 2.4277, 2.4311, 2.4363, 2.4384, 2.4444,
               2.4507, 2.4577, 2.4654, 2.4723, 2.4800, 2.4849, 2.4901, 2.4933, 2.4972, 2.5015, 2.5049,
               2.5101, 2.5173, 2.5235, 2.5312, 2.5381, 2.5447, 2.5521, 2.5563, 2.5591, 2.5637, 2.5689,
               2.5777, 2.5854, 2.5996, 2.6066, 2.6212, 2.6282, 2.6359, 2.6436, 2.6471, 2.6499, 2.6582,
               2.6764, 2.6820, 2.6883, 2.6946]
d_orf_end = [2.3525, 2.3560, 2.3595, 2.3644, 2.3714, 2.3770, 2.3818, 2.3881, 2.3937, 2.4007, 2.4038,
             2.4091, 2.4144, 2.4168, 2.4182, 2.4209, 2.4272, 2.4307, 2.4349, 2.4367, 2.4440, 2.4503,
             2.4573, 2.4649, 2.4719, 2.4796, 2.4845, 2.4873, 2.4929, 2.4968, 2.5006, 2.5020, 2.5096,
             2.5167, 2.5233, 2.5305, 2.5374, 2.5437, 2.5514, 2.5556, 2.5584, 2.5626, 2.5682, 2.5749,
             2.5849, 2.5989, 2.6059, 2.6198, 2.6275, 2.6327, 2.6429, 2.6464, 2.6475, 2.6575, 2.6750,
             2.6813, 2.6876, 2.6939, 2.7034]
d_ars_start = [2.5049]
d_ars_end = [2.5096]
d_band_start = [2.5048]
d_band_end = [2.5096]
d_xticks = [2.35, 2.40, 2.45, 2.50, 2.55, 2.60, 2.65, 2.70]
d_xlabels = ["2.35", "2.40", "2.45", "2.50", "2.55", "2.60", "2.65", "2.70"]
d_yticks = [1.0, 1.2, 1.4, 1.6, 1.8, 2.0]
d_ylabels = ["1.0", "1.2", "1.4", "1.6", "1.8", "2.0"]


# ---------------- helpers (page pixel -> figure paper fraction) ----------------
def fx(p):
    return (p - OFF) / FW


def fy(p):
    return 1 - (p - OFF) / FH


fig = go.Figure()
shapes = []
annotations = []


def add_rects(starts, ends, y0, y1, color, xa, ya):
    xs, ys = [], []
    for s, e in zip(starts, ends):
        xs += [s, e, e, s, s, None]
        ys += [y0, y0, y1, y1, y0, None]
    fig.add_trace(go.Scatter(x=xs, y=ys, mode="lines", fill="toself", fillcolor=color,
                             line=dict(color=color, width=0.5), xaxis=xa, yaxis=ya,
                             hoverinfo="skip", showlegend=False))


def add_bands(starts, ends, xref):
    for s, e in zip(starts, ends):
        shapes.append(dict(type="rect", xref=xref, yref=xref.replace("x", "y") + " domain",
                           x0=s, x1=e, y0=0, y1=1, fillcolor=GRAY, line=dict(width=0), layer="below"))


def add_line(xs, ys, color, xa, ya, width=1.0):
    fig.add_trace(go.Scatter(x=xs, y=ys, mode="lines", line=dict(color=color, width=width),
                             xaxis=xa, yaxis=ya, hoverinfo="skip", showlegend=False))


def add_peaks(xs, ys, xa, ya):
    fig.add_trace(go.Scatter(x=xs, y=ys, mode="markers", marker=dict(color=BLUE, size=5),
                             xaxis=xa, yaxis=ya, hoverinfo="skip", showlegend=False, cliponaxis=False))


# Panel a
add_bands(a_at_start, a_at_end, "x")
add_rects(a_orf_start, a_orf_end, 0.9578, 1.003, "#000000", "x", "y")
add_rects(a_at_start, a_at_end, 0.9578, 1.003, ORANGE, "x", "y")
add_rects(a_ori_start, a_ori_end, 0.9578, 0.9765, GREEN_ORI, "x", "y")
add_line(a_x, a_y, RED, "x", "y")
add_peaks(a_peak_x, a_peak_y, "x", "y")

# Panel b
add_line(b_x, b_y, BLUE_LINE, "x2", "y2", width=1.3)

# Panel c
add_rects(c_orf_start, c_orf_end, 0.9495, 1.0, "#000000", "x3", "y3")
add_line(c_x, c_y, RED, "x3", "y3")
add_peaks(c_peak_x, c_peak_y, "x3", "y3")

# Panel d
add_bands(d_band_start, d_band_end, "x4")
add_rects(d_orf_start, d_orf_end, 0.950, 1.0, "#000000", "x4", "y4")
add_rects(d_ars_start, d_ars_end, 0.950, 1.0, GREEN_ARS, "x4", "y4")
add_line(d_x, d_y, RED, "x4", "y4")
add_peaks(d_peak_x, d_peak_y, "x4", "y4")

TICKFONT = dict(family=FONT, size=16, color="#222222")
AX = "#333333"


def xaxis(px0, px1, rng, anchor, vals, labels, tl):
    return dict(domain=[fx(px0), fx(px1)], range=rng, anchor=anchor, tickvals=vals, ticktext=labels,
                ticks="outside", ticklen=tl, tickwidth=1, tickcolor=AX, showline=True, linecolor=AX,
                linewidth=1, showgrid=False, zeroline=False, tickfont=TICKFONT, fixedrange=True)


def yaxis(py0, py1, rng, anchor, vals, labels, tl):
    return dict(domain=[fy(py1), fy(py0)], range=rng, anchor=anchor, tickvals=vals, ticktext=labels,
                ticks="outside", ticklen=tl, tickwidth=1, tickcolor=AX, showline=True, linecolor=AX,
                linewidth=1, showgrid=False, zeroline=False, tickfont=TICKFONT, fixedrange=True)


layout_axes = dict(
    xaxis=xaxis(122.5, 1137, [3.93257, 4.28825], "y", a_xticks, a_xlabels, 7),
    yaxis=yaxis(70.3, 525.3, [0.9578, 1.7198], "x", a_yticks, a_ylabels, 9),
    xaxis2=xaxis(122.5, 1138, [3.93445, 4.29089], "y2", a_xticks, a_xlabels, 7),
    yaxis2=yaxis(585, 742.7, [0.9486, 1.2152], "x2", b_yticks, b_ylabels, 8),
    xaxis3=xaxis(122.5, 1121.2, [0.66769, 1.02226], "y3", c_xticks, c_xlabels, 7),
    yaxis3=yaxis(807.5, 1263.9, [0.9451, 1.7005], "x3", c_yticks, c_ylabels, 9),
    xaxis4=xaxis(122.5, 1093.7, [2.34905, 2.70349], "y4", d_xticks, d_xlabels, 10),
    yaxis4=yaxis(1339.6, 1794.6, [0.9458, 2.0005], "x4", d_yticks, d_ylabels, 11),
)


def text(px0, py0, s, size, anchor="center", angle=0, bold=False, color="#111111"):
    annotations.append(dict(x=fx(px0), y=fy(py0), xref="paper", yref="paper",
                            text=("<b>%s</b>" % s) if bold else s,
                            showarrow=False, xanchor=anchor, yanchor="middle", textangle=angle,
                            font=dict(family=FONT, size=size, color=color)))


# panel letters
text(63, 49, "(a)", 30, bold=True, color="#000")
text(63, 570, "(b)", 30, bold=True, color="#000")
text(63, 807, "(c)", 30, bold=True, color="#000")
text(63, 1312, "(d)", 30, bold=True, color="#000")

# axis titles
text(660, 571.5, "S. pombe Chromosome 1 (Mb)", 20.5)
text(660, 792.7, "S. pombe Chromosome 1 (Mb)", 20.5)
text(681, 1313.9, "S. octosporus Chromosome 2 (Mb)", 20.5)
text(645, 1872, "S. japonicus Chromosome 1 (Mb)", 20.5)
text(55.5, 281, "Normalized read counts", 31.5, angle=-90)
text(55, 1026.4, "Normalized read counts", 31.5, angle=-90)
text(55, 1533, "Normalized read counts", 31.5, angle=-90)


def lrect(x0, y0, x1, y1, color):
    shapes.append(dict(type="rect", xref="paper", yref="paper", x0=fx(x0), x1=fx(x1), y0=fy(y1), y1=fy(y0),
                       fillcolor=color, line=dict(width=0)))


def lline(x0, x1, y, color):
    shapes.append(dict(type="line", xref="paper", yref="paper", x0=fx(x0), x1=fx(x1), y0=fy(y), y1=fy(y),
                       line=dict(color=color, width=1)))


def ldot(cx, cy, r):
    shapes.append(dict(type="circle", xref="paper", yref="paper", x0=fx(cx - r), x1=fx(cx + r),
                       y0=fy(cy + r), y1=fy(cy - r), fillcolor=BLUE, line=dict(width=0)))


LF = 15.5
# legend a
lrect(860.2, 121.5, 864.6, 133.5, "#000000")
lrect(860.2, 133.5, 864.6, 146.5, GREEN_ORI)
lrect(860.2, 146.5, 864.6, 160.0, ORANGE)
lline(850.7, 873, 167, RED)
ldot(861.5, 180.8, 4.4)
text(880, 126.3, "ORFs", LF, anchor="left", color="#000")
text(880, 139.0, "validated  origins", LF, anchor="left", color="#000")
text(880, 151.8, "AT island", LF, anchor="left", color="#000")
text(880, 165.5, "Sp1 replication profile", LF, anchor="left", color="#000")
text(880, 179.0, "Sp1 identified peaks", LF, anchor="left", color="#000")

# legend b
lline(851.8, 872.4, 612.7, BLUE_LINE)
text(880, 612.7, "Sp1G2 - Sp2G2", 15, anchor="left", color="#000")

# legend c
lrect(860.2, 853.2, 864.6, 865.7, "#000000")
lline(850.7, 873, 872.1, RED)
ldot(861.5, 885.7, 4.4)
text(880, 858.0, "ORFs", LF, anchor="left", color="#000")
text(880, 871.4, "So1 replication profile", LF, anchor="left", color="#000")
text(880, 885.0, "So1 identified peaks", LF, anchor="left", color="#000")

# legend d
lrect(998, 1386.1, 1013.3, 1395.5, "#000000")
lline(997.2, 1014.1, 1409.1, RED)
ldot(1005.7, 1427.6, 5.0)
lrect(998, 1440.8, 1013.3, 1450.3, GREEN_ARS)
text(1027.5, 1390.6, "ORFs", 16, anchor="left", color="#000")
text(1027.5, 1409.1, "Sj2 replication profile", 16, anchor="left", color="#000")
text(1027.5, 1427.6, "Sj2 identified peaks", 16, anchor="left", color="#000")
text(1027.5, 1445.4, "ARS", 16, anchor="left", color="#000")

fig.update_layout(
    width=FW, height=FH, autosize=False,
    margin=dict(l=0, r=0, t=0, b=0, pad=0),
    paper_bgcolor="white", plot_bgcolor="white",
    showlegend=False,
    shapes=shapes, annotations=annotations,
    font=dict(family=FONT),
    **layout_axes,
)

fig.write_html("out.html", include_plotlyjs=True, config={"displayModeBar": False})
